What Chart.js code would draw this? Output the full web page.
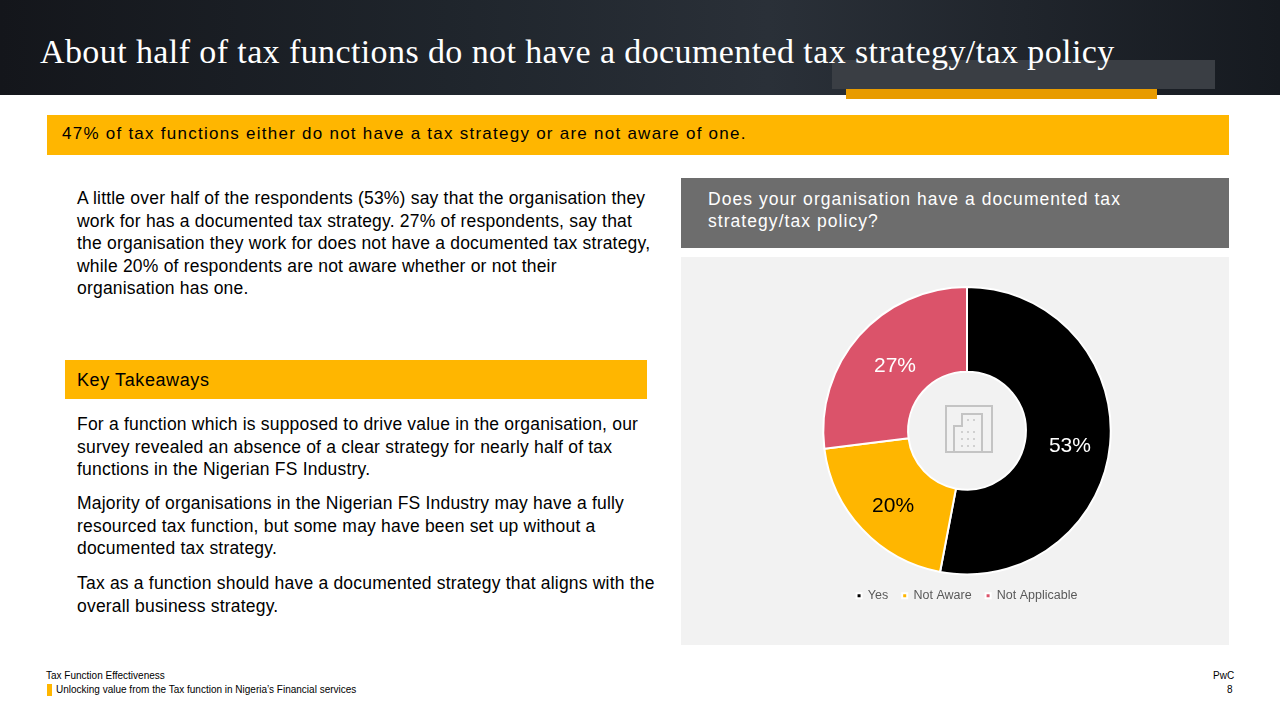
<!DOCTYPE html>
<html>
<head>
<meta charset="utf-8">
<script src="https://cdn.jsdelivr.net/npm/chart.js@4/dist/chart.umd.min.js"></script>
<style>
  body { margin: 0; width: 1280px; height: 720px; position: relative; background: #fff; font-family: "Liberation Sans", Arial, sans-serif; overflow: hidden; }
  .abs { position: absolute; }
  #header { left: 0; top: 0; width: 1280px; height: 95px; background: linear-gradient(90deg, #14161b 0%, #1f252c 35%, #2a3038 60%, #161a20 100%); }
  #title { left: 40px; top: 33px; color: #fff; font-family: "Liberation Serif", "DejaVu Serif", serif; font-size: 34px; letter-spacing: 0.4px; }
  .para { font-size: 17.5px; line-height: 22.5px; color: #000; letter-spacing: 0.2px; }
</style>
</head>
<body>
<div id="header" class="abs"></div>
<div class="abs" style="left:832px;top:60px;width:383px;height:29px;background:#3a3e44;"></div>
<div class="abs" style="left:846px;top:89px;width:311px;height:10px;background:#e89b00;"></div>
<div id="title" class="abs">About half of tax functions do not have a documented tax strategy/tax policy</div>

<div class="abs" style="left:47px;top:115px;width:1182px;height:40px;background:#FFB600;"></div>
<div class="abs" style="left:62px;top:124px;font-size:17px;letter-spacing:1.25px;">47% of tax functions either do not have a tax strategy or are not aware of one.</div>

<div class="abs para" style="left:77px;top:187px;width:575px;">A little over half of the respondents (53%) say that the organisation they work for has a documented tax strategy. 27% of respondents, say that the organisation they work for does not have a documented tax strategy, while 20% of respondents are not aware whether or not their organisation has one.</div>

<div class="abs" style="left:65px;top:360px;width:582px;height:39px;background:#FFB600;"></div>
<div class="abs" style="left:77px;top:370px;font-size:18px;letter-spacing:0.6px;">Key Takeaways</div>

<div class="abs para" style="left:77px;top:413px;width:590px;">For a function which is supposed to drive value in the organisation, our survey revealed an absence of a clear strategy for nearly half of tax functions in the Nigerian FS Industry.</div>
<div class="abs para" style="left:77px;top:492px;width:590px;">Majority of organisations in the Nigerian FS Industry may have a fully resourced tax function, but some may have been set up without a documented tax strategy.</div>
<div class="abs para" style="left:77px;top:572px;width:590px;">Tax as a function should have a documented strategy that aligns with the overall business strategy.</div>

<div class="abs" style="left:681px;top:178px;width:548px;height:70px;background:#6d6d6d;"></div>
<div class="abs" style="left:708px;top:188px;width:500px;color:#fff;font-size:17.5px;line-height:22px;letter-spacing:1.05px;">Does your organisation have a documented tax strategy/tax policy?</div>

<div class="abs" style="left:681px;top:257px;width:548px;height:388px;background:#f2f2f2;"></div>
<div class="abs" style="left:693px;top:286px;width:548px;height:326px;">
  <canvas id="pie"></canvas>
</div>
<svg class="abs" style="left:944px;top:404px;" width="50" height="50" viewBox="0 0 50 50" fill="none" stroke="#c4c4c4" stroke-width="2">
  <rect x="2" y="2" width="46" height="46"/>
  <path d="M10 48 V22 H18 V10 H38 V48"/>
  <g fill="#c4c4c4" stroke="none">
    <circle cx="24" cy="16" r="1"/><circle cx="30" cy="16" r="1"/>
    <circle cx="18" cy="28" r="1"/><circle cx="24" cy="28" r="1"/><circle cx="30" cy="28" r="1"/>
    <circle cx="18" cy="35" r="1"/><circle cx="24" cy="35" r="1"/><circle cx="30" cy="35" r="1"/>
    <circle cx="18" cy="42" r="1"/><circle cx="24" cy="42" r="1"/><circle cx="30" cy="42" r="1"/>
  </g>
</svg>

<div class="abs" style="left:46px;top:670px;font-size:10px;">Tax Function Effectiveness</div>
<div class="abs" style="left:47px;top:684px;width:5px;height:12px;background:#FFB600;"></div>
<div class="abs" style="left:56px;top:684px;font-size:10px;">Unlocking value from the Tax function in Nigeria’s Financial services</div>
<div class="abs" style="left:1213px;top:670px;font-size:10px;">PwC</div>
<div class="abs" style="left:1227px;top:684px;font-size:10px;">8</div>

<script>
const categories = ['Yes', 'Not Aware', 'Not Applicable'];
const shares = [53, 20, 27];
const sliceColors = ['#000000', '#FFB600', '#DB536A'];
const labelColors = ['#ffffff', '#000000', '#ffffff'];

// draw percentage labels in the middle of each ring segment
const sliceLabels = {
  id: 'sliceLabels',
  afterDatasetsDraw(chart) {
    const ctx = chart.ctx;
    const meta = chart.getDatasetMeta(0);
    ctx.save();
    ctx.font = '21px "Liberation Sans", Arial, sans-serif';
    ctx.textAlign = 'center';
    ctx.textBaseline = 'middle';
    meta.data.forEach((arc, i) => {
      const p = arc.tooltipPosition();
      ctx.fillStyle = labelColors[i];
      ctx.fillText(shares[i] + '%', p.x + (i === 0 ? 2 : i === 2 ? 4 : 0), p.y + (i === 2 ? 2 : 6));
    });
    ctx.restore();
  }
};

window.onload = () => {
  new Chart(document.getElementById('pie'), {
    type: 'doughnut',
    data: {
      labels: categories,
      datasets: [{
        data: shares,
        backgroundColor: sliceColors,
        borderColor: '#ffffff',
        borderWidth: 2
      }]
    },
    options: {
      responsive: true,
      maintainAspectRatio: false,
      animation: false,
      cutout: '41%',
      plugins: {
        legend: {
          position: 'bottom',
          labels: {
            boxWidth: 5, boxHeight: 5, padding: 14,
            color: '#595959',
            font: { size: 12.5, family: '"Liberation Sans", Arial, sans-serif' }
          }
        },
        tooltip: { enabled: false }
      }
    },
    plugins: [sliceLabels]
  });
};
</script>
</body>
</html>
